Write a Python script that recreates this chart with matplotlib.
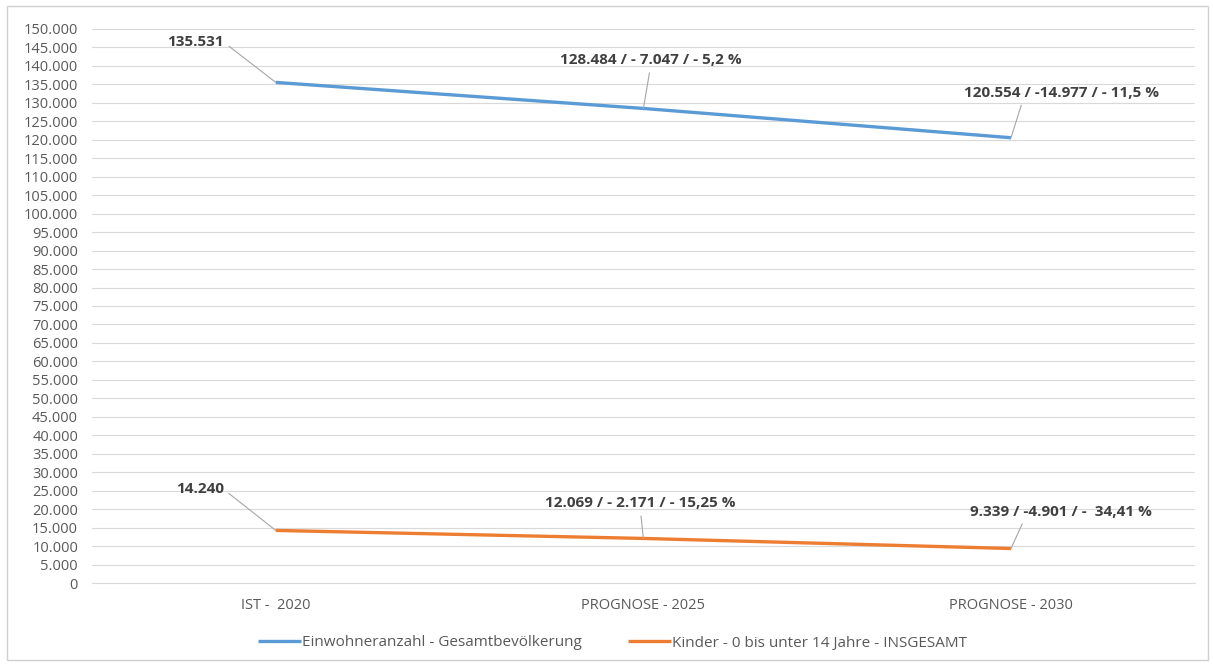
import numpy as np
import matplotlib
matplotlib.use("Agg")
import matplotlib.pyplot as plt
from matplotlib.ticker import FuncFormatter
from matplotlib.patches import Rectangle

kategorien = ["IST -  2020", "PROGNOSE - 2025", "PROGNOSE - 2030"]
gesamt = [135531, 128484, 120554]
kinder = [14240, 12069, 9339]
label_gesamt = ["135.531", "128.484 / - 7.047 / - 5,2 %", "120.554 / -14.977 / - 11,5 %"]
label_kinder = ["14.240", "12.069 / - 2.171 / - 15,25 %", "9.339 / -4.901 / -  34,41 %"]
serien = ["Einwohneranzahl - Gesamtbevölkerung", "Kinder - 0 bis unter 14 Jahre - INSGESAMT"]

plt.rcParams["font.family"] = ["Open Sans", "DejaVu Sans"]

fig = plt.figure(figsize=(12.13, 6.66), dpi=100)
ax = fig.add_axes([0.0758, 0.1246, 0.9092, 0.8319])

# Rahmen um das ganze Diagramm
fig.patches.append(Rectangle((7 / 1213, 6 / 666), 1201 / 1213, 654 / 666,
                             transform=fig.transFigure, fill=False,
                             edgecolor="#d0d0d0", lw=1))

x = np.arange(len(kategorien))
ax.plot(x, gesamt, color="#5B9BD5", lw=2.4, label=serien[0], solid_capstyle="butt")
ax.plot(x, kinder, color="#ED7D31", lw=2.4, label=serien[1], solid_capstyle="butt")

ax.set_xlim(-0.5, 2.5)
ax.set_ylim(0, 150000)
ax.set_yticks(np.arange(0, 150001, 5000))
ax.yaxis.set_major_formatter(FuncFormatter(lambda v, p: f"{int(v):,}".replace(",", ".")))
ax.set_xticks(x)
ax.set_xticklabels(kategorien)
ax.tick_params(axis="both", length=0, labelsize=10.5, colors="#595959")
ax.tick_params(axis="x", pad=11)
ax.tick_params(axis="y", pad=10)
ax.grid(axis="y", color="#d9d9d9", lw=0.8)
ax.set_axisbelow(True)
for s in ["top", "right", "left"]:
    ax.spines[s].set_visible(False)
ax.spines["bottom"].set_color("#d9d9d9")

# Beschriftungen mit Führungslinien (Offsets in Pixeln)
offs_g = [(-80, 40, (1, 0.5)), (7, 48, (0.5, 0)), (51, 45, (0.3, 0))]
offs_k = [(-76, 41, (1, 0.5)), (-3, 35, (0.5, 0)), (50, 37, (0.3, 0))]
for werte, texte, offs in [(gesamt, label_gesamt, offs_g), (kinder, label_kinder, offs_k)]:
    for i, (v, t) in enumerate(zip(werte, texte)):
        dx, dy, rp = offs[i]
        ax.annotate(t, xy=(x[i], v), xytext=(dx, dy), textcoords="offset pixels",
                    ha="center", va="center", fontsize=11, fontweight="bold",
                    color="#404040",
                    arrowprops=dict(arrowstyle="-", color="#a6a6a6", lw=0.8,
                                    relpos=rp, shrinkA=2, shrinkB=0))

fig.legend(*ax.get_legend_handles_labels(), loc="center",
           bbox_to_anchor=(0.505, 1 - 643 / 666), ncol=2, frameon=False,
           fontsize=11, labelcolor="#595959", handlelength=2.8, handletextpad=0.1,
           columnspacing=3.0)

fig.savefig("out.png", dpi=100)
